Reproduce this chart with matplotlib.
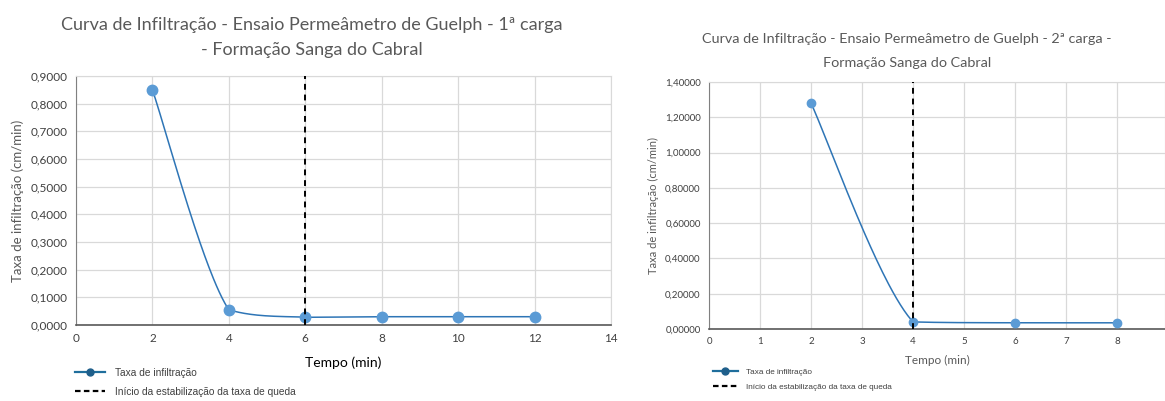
import numpy as np
import matplotlib
matplotlib.use('Agg')
from matplotlib import pyplot as plt
import matplotlib.ticker as mtick
from matplotlib.lines import Line2D

# 1ª carga
tempo_1 = [2, 4, 6, 8, 10, 12]
taxa_1 = [0.850, 0.055, 0.028, 0.030, 0.030, 0.030]
estab_1 = 6

# 2ª carga
tempo_2 = [2, 4, 6, 8]
taxa_2 = [1.280, 0.040, 0.035, 0.035]
estab_2 = 4

titulo_1 = 'Curva de Infiltração - Ensaio Permeâmetro de Guelph - 1ª carga\n- Formação Sanga do Cabral'
titulo_2 = 'Curva de Infiltração - Ensaio Permeâmetro de Guelph - 2ª carga -\nFormação Sanga do Cabral'

COR_PONTO = '#5B9BD5'
COR_LINHA = '#2E75B6'
CINZA = '#595959'
GRADE = '#D9D9D9'


def suaviza(x, y, n=60):
    # linha suavizada: Bezier cúbica com tangentes de Catmull-Rom
    P = np.column_stack([np.array(x, float), np.array(y, float)])
    m = len(P)
    out = []
    for i in range(m - 1):
        p0 = P[i - 1] if i > 0 else P[i]
        p3 = P[i + 2] if i + 2 < m else P[i + 1]
        c1 = P[i] + (P[i + 1] - p0) / 6
        c2 = P[i + 1] - (p3 - P[i]) / 6
        # evita que a curva passe além dos pontos vizinhos
        lo, hi = min(P[i, 1], P[i + 1, 1]), max(P[i, 1], P[i + 1, 1])
        c1[1] = np.clip(c1[1], lo, hi)
        c2[1] = np.clip(c2[1], lo, hi)
        t = np.linspace(0, 1, n)[:, None]
        seg = (1 - t) ** 3 * P[i] + 3 * (1 - t) ** 2 * t * c1 + 3 * (1 - t) * t ** 2 * c2 + t ** 3 * P[i + 1]
        out.append(seg if i == 0 else seg[1:])
    out = np.vstack(out)
    return out[:, 0], out[:, 1]


def virgula(casas):
    fmt = '%.' + str(casas) + 'f'
    return mtick.FuncFormatter(lambda v, p: (fmt % v).replace('.', ','))


def desenha(ax, tempo, taxa, estab, xlim, ylim, ystep, casas, fs, ms):
    xs, ys = suaviza(tempo, taxa)
    ax.plot(xs, ys, color=COR_LINHA, lw=1.1, zorder=3)
    ax.plot(tempo, taxa, 'o', color=COR_PONTO, ms=ms, zorder=4)
    ax.vlines(estab, ylim[0], ylim[1], colors='black', linestyles=(0, (3, 2.5)), lw=1.4, zorder=5)
    ax.set_xlim(*xlim)
    ax.set_ylim(*ylim)
    ax.yaxis.set_major_locator(mtick.MultipleLocator(ystep))
    ax.yaxis.set_major_formatter(virgula(casas))
    ax.grid(True, color=GRADE, lw=0.9)
    ax.set_axisbelow(True)
    for s in ['top', 'right']:
        ax.spines[s].set_color(GRADE)
    ax.spines['left'].set_color('#808080')
    ax.spines['bottom'].set_color('#595959')
    ax.spines['bottom'].set_linewidth(1.2)
    ax.tick_params(length=0, labelsize=fs, colors='#404040', pad=6)


plt.rcParams['font.family'] = ['Lato', 'DejaVu Sans']
fig = plt.figure(figsize=(11.65, 4.01), dpi=100)

# gráfico da 1ª carga
ax1 = fig.add_axes([0.0652, 0.1895, 0.4593, 0.621])
desenha(ax1, tempo_1, taxa_1, estab_1, (0, 14), (0, 0.9), 0.1, 4, 8.5, 7.5)
ax1.xaxis.set_major_locator(mtick.MultipleLocator(2))
ax1.set_xlabel('Tempo (min)', fontsize=10, color='black', labelpad=9)
ax1.set_ylabel('Taxa de infiltração (cm/min)', fontsize=9.5, color=CINZA, labelpad=5)
fig.text(0.268, 0.957, titulo_1, ha='center', va='top', fontsize=13, color=CINZA, linespacing=1.68)

# gráfico da 2ª carga
ax2 = fig.add_axes([0.6086, 0.1796, 0.3914, 0.616])
desenha(ax2, tempo_2, taxa_2, estab_2, (0, 8.94), (0, 1.4), 0.2, 5, 7, 6)
ax2.xaxis.set_major_locator(mtick.MultipleLocator(1))
ax2.set_xlabel('Tempo (min)', fontsize=8.5, color=CINZA, labelpad=6)
ax2.set_ylabel('Taxa de infiltração (cm/min)', fontsize=8, color=CINZA, labelpad=4)
fig.text(0.7785, 0.918, titulo_2, ha='center', va='top', fontsize=10.4, color=CINZA, linespacing=2.25)

# legendas abaixo de cada gráfico
itens = [Line2D([], [], color='#1F6E9C', lw=1.6, marker='o', ms=5, mfc='#1F5F8B', mec='#1F5F8B'),
         Line2D([], [], color='black', lw=1.6, ls=(0, (2.5, 1.5)))]
nomes = ['Taxa de infiltração', 'Início da estabilização da taxa de queda']
for x0, y0, tam in [(0.064, 0.083, 7.3), (0.612, 0.081, 5.9)]:
    fig.legend(itens, nomes, loc='upper left', bbox_to_anchor=(x0, y0), frameon=False,
               prop={'family': 'Liberation Sans', 'size': tam}, labelcolor='#404040',
               handlelength=3, handletextpad=1.0, labelspacing=0.9, borderaxespad=0, borderpad=0)

fig.savefig('out.png', dpi=100)
